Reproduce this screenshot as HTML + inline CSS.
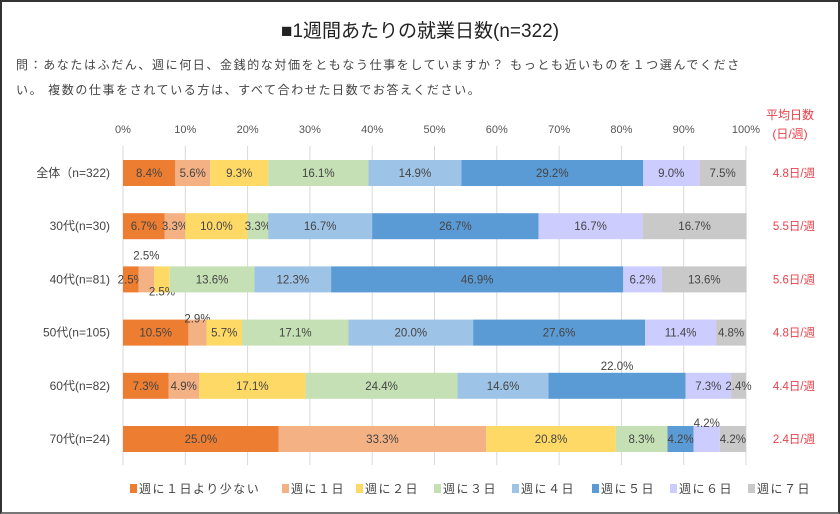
<!DOCTYPE html>
<html><head><meta charset="utf-8">
<style>
body{margin:0;background:#fff;}
#wrap{position:relative;width:836px;height:510px;border:2px solid #333;border-bottom-color:#777;background:#fff;font-family:"Liberation Sans","Noto Sans CJK JP",sans-serif;overflow:hidden}
.t{position:absolute;white-space:nowrap}
</style></head><body>
<div id="wrap">
<div class="t" style="left:0;width:836px;text-align:center;top:14px;font-size:19px;color:#222">■1週間あたりの就業日数(n=322)</div>
<div class="t" style="left:14px;top:54px;font-size:12px;color:#444;letter-spacing:1.6px">問：あなたはふだん、週に何日、金銭的な対価をともなう仕事をしていますか？ もっとも近いものを１つ選んでくださ</div>
<div class="t" style="left:14px;top:79px;font-size:12px;color:#444;letter-spacing:1.6px">い。 複数の仕事をされている方は、すべて合わせた日数でお答えください。</div>
<div class="t" style="left:764px;top:104px;font-size:12px;color:#e8414a;text-align:center;line-height:19px">平均日数<br>(日/週)</div>
<svg id="svg" width="836" height="510" style="position:absolute;left:0;top:0"></svg>
</div>
<script>
const categories=["全体（n=322)","30代(n=30)","40代(n=81)","50代(n=105)","60代(n=82)","70代(n=24)"];
const seriesNames=["週に１日より少ない","週に１日","週に２日","週に３日","週に４日","週に５日","週に６日","週に７日"];
const colors=["#ed7d31","#f4b183","#ffd966","#c5e0b4","#9dc3e6","#5b9bd5","#ccccff","#c9c9c9"];
const values=[
[8.4,5.6,9.3,16.1,14.9,29.2,9.0,7.5],
[6.7,3.3,10.0,3.3,16.7,26.7,16.7,16.7],
[2.5,2.5,2.5,13.6,12.3,46.9,6.2,13.6],
[10.5,2.9,5.7,17.1,20.0,27.6,11.4,4.8],
[7.3,4.9,17.1,24.4,14.6,22.0,7.3,2.4],
[25.0,33.3,20.8,8.3,0,4.2,4.2,4.2]];
const averages=["4.8日/週","5.5日/週","5.6日/週","4.8日/週","4.4日/週","2.4日/週"];
const ticks=[0,10,20,30,40,50,60,70,80,90,100];
const outside=[[2,1,-24],[2,2,12],[3,1,-14],[4,5,-20],[5,6,-16]];
const NS="http://www.w3.org/2000/svg",svg=document.getElementById('svg');
const x0=121,x1=744,y0=144,rowH=53.2,barH=26,firstY=158;
const X=v=>x0+(x1-x0)*v/100;
const Y=i=>firstY+i*rowH;
function mk(t,a,p){const e=document.createElementNS(NS,t);for(const k in a)e.setAttribute(k,a[k]);(p||svg).appendChild(e);return e;}
ticks.forEach(t=>{
 const l=mk('line',{x1:X(t),x2:X(t),y1:y0,y2:463,stroke:'#d9d9d9','stroke-width':1});
 
 
 const tx=mk('text',{x:X(t),y:131,'text-anchor':'middle','font-size':11,fill:'#555'});tx.textContent=t+'%';
 
 
});
values.forEach((row,i)=>{
 let acc=0;const y=Y(i);
 const cl=mk('text',{x:108,y:y+barH/2+4,'text-anchor':'end','font-size':12,fill:'#444'});cl.textContent=categories[i];
 
 
 row.forEach((v,s)=>{
  const xa=X(acc),xb=X(acc+v);acc+=v;
  if(v<=0)return;
  const r=mk('rect',{x:xa,y:y,width:xb-xa,height:barH,fill:colors[s]});
  
  
  let dy=0;outside.forEach(o=>{if(o[0]===i&&o[1]===s)dy=o[2];});
  const t=mk('text',{x:(xa+xb)/2,y:y+barH/2+4+dy,'text-anchor':'middle','font-size':11.5,fill:'#444'});
  t.textContent=v.toFixed(1)+'%';
  
  
 });
 const a=mk('text',{x:792,y:y+barH/2+4,'text-anchor':'middle','font-size':11.5,fill:'#e8414a'});a.textContent=averages[i];
 
 
});
const lx=[128,280,354,432,510,590,668,746];
seriesNames.forEach((n,s)=>{
 const g=mk('g',{});
 
 
 mk('rect',{x:lx[s],y:482,width:7,height:9,fill:colors[s]},g);
 const t=mk('text',{x:lx[s]+9,y:491,'font-size':12,fill:'#444','letter-spacing':1.5},g);t.textContent=n;
});
</script>
</body></html>
